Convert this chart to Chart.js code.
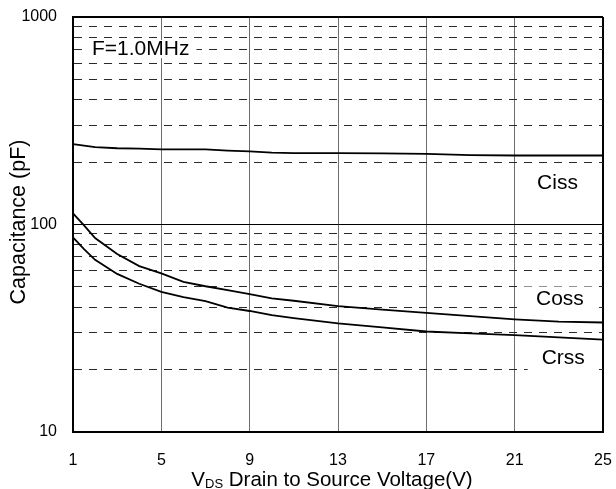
<!DOCTYPE html>
<html><head><meta charset="utf-8">
<script src="https://cdn.jsdelivr.net/npm/chart.js@4/dist/chart.umd.min.js"></script>
<style>html,body{margin:0;padding:0;background:#fff;}#wrap{width:616px;height:489px;}</style>
</head><body><div id="wrap"><canvas id="c" width="616" height="489"></canvas></div>
<script>
// ---- data ----
const voltages = [1, 1.5, 2, 3, 4, 5, 6, 7, 8, 9, 10, 11, 13, 15, 17, 19, 21, 23, 25];
const ciss = [244, 240, 236, 233, 232, 230, 230, 230, 227, 225, 222, 221, 221, 220, 219, 216, 215, 215, 215];
const coss = [113, 99, 86, 72, 63, 58.1, 52.9, 50.4, 48.3, 46.2, 44, 42.9, 40.4, 38.9, 37.5, 36.2, 34.9, 34.0, 33.7];
const crss = [86.6, 76, 67.6, 57.8, 51.8, 47.3, 44.7, 42.7, 39.8, 38.3, 36.6, 35.4, 33.4, 31.9, 30.5, 29.9, 29.3, 28.6, 27.9];
const xTickValues = [1, 5, 9, 13, 17, 21, 25];
const yLabelValues = [10, 100, 1000];
const seriesNames = ['Ciss', 'Coss', 'Crss'];
const labelAnchors = [[22.94, 159], [23.05, 43.5], [23.2, 22.7]];
const noteText = 'F=1.0MHz';
const xTitleMain = 'V', xTitleSub = 'DS', xTitleRest = ' Drain to Source Voltage(V)';
const yTitle = 'Capacitance (pF)';

const FONT = '"Liberation Sans", Arial, sans-serif';
const yGridValues = [];
for (let d = 10; d < 1000; d *= 10) for (let m = 1; m < 10; m++) yGridValues.push(d * m);
yGridValues.push(1000);

const toPts = arr => arr.map((v, i) => ({x: voltages[i], y: v}));

const textPlugin = {
  id: 'texts',
  beforeDatasetsDraw(chart) {
    const {ctx, scales: {x, y}} = chart;
    ctx.save();
    ctx.fillStyle = '#fff';
    const fx = x.getPixelForValue(1.86), fy = y.getPixelForValue(700);
    ctx.font = '21px ' + FONT;
    const fw = ctx.measureText(noteText).width;
    ctx.fillRect(fx - 9, fy - 9, fw + 16, 18);
    seriesNames.forEach((n, i) => {
      const px = x.getPixelForValue(labelAnchors[i][0]);
      const py = y.getPixelForValue(labelAnchors[i][1]);
      const w = ctx.measureText(n).width;
      ctx.fillRect(px - w / 2 - 14, py - 13, w + 28, 26);
    });
    ctx.restore();
  },
  afterDatasetsDraw(chart) {
    const {ctx, scales: {x, y}} = chart;
    ctx.save();
    ctx.fillStyle = '#000';
    ctx.textBaseline = 'middle';
    ctx.font = '21px ' + FONT;
    ctx.textAlign = 'left';
    ctx.fillText(noteText, x.getPixelForValue(1.86), y.getPixelForValue(700));
    ctx.textAlign = 'center';
    seriesNames.forEach((n, i) => {
      ctx.fillText(n, x.getPixelForValue(labelAnchors[i][0]), y.getPixelForValue(labelAnchors[i][1]));
    });
    ctx.textBaseline = 'alphabetic';
    ctx.textAlign = 'left';
    const big = '20.5px ' + FONT, small = '13px ' + FONT;
    ctx.font = big; const w1 = ctx.measureText(xTitleMain).width, w3 = ctx.measureText(xTitleRest).width;
    ctx.font = small; const w2 = ctx.measureText(xTitleSub).width;
    const total = w1 + w2 + w3;
    let sx = 332 - total / 2;
    const base = 486;
    ctx.font = big; ctx.fillText(xTitleMain, sx, base); sx += w1;
    ctx.font = small; ctx.fillText(xTitleSub, sx, base + 2); sx += w2;
    ctx.font = big; ctx.fillText(xTitleRest, sx, base);
    ctx.translate(19, 222);
    ctx.rotate(-Math.PI / 2);
    ctx.textAlign = 'center';
    ctx.textBaseline = 'middle';
    ctx.font = '21.5px ' + FONT;
    ctx.fillText(yTitle, 0, 0);
    ctx.restore();
  }
};

const lineDs = (label, data) => ({
  label, data: toPts(data), borderColor: '#000', borderWidth: 1.8,
  pointRadius: 0, tension: 0, fill: false
});

new Chart(document.getElementById('c'), {
  type: 'line',
  data: { datasets: [lineDs('Ciss', ciss), lineDs('Coss', coss), lineDs('Crss', crss)] },
  options: {
    responsive: false, animation: false, devicePixelRatio: 1,
    layout: { padding: { top: 17, right: 13, left: 0, bottom: 0 } },
    plugins: { legend: { display: false }, tooltip: { enabled: false } },
    scales: {
      x: {
        type: 'linear', min: 1, max: 25,
        afterBuildTicks: s => { s.ticks = xTickValues.map(v => ({value: v})); },
        afterFit: s => { s.height = 57; s.paddingLeft = 0; s.paddingRight = 0; },
        ticks: { color: '#000', font: { family: FONT, size: 16 }, padding: 19, maxRotation: 0, autoSkip: false },
        grid: {
          drawTicks: false,
          color: c => (c.tick && c.tick.value === 25) ? '#000' : '#6e6e6e',
          lineWidth: c => (c.tick && c.tick.value === 25) ? 2 : 1
        },
        border: { color: '#000', width: 2 }
      },
      y: {
        type: 'logarithmic', min: 10, max: 1000,
        afterBuildTicks: s => { s.ticks = yGridValues.map(v => ({value: v, major: yLabelValues.includes(v)})); },
        afterFit: s => { s.width = 73; s.paddingTop = 0; s.paddingBottom = 0; },
        ticks: {
          color: '#000', font: { family: FONT, size: 16 }, padding: 16, autoSkip: false,
          callback: v => yLabelValues.includes(v) ? String(v) : ''
        },
        grid: {
          drawTicks: false,
          color: c => (c.tick && yLabelValues.includes(c.tick.value)) ? '#000' : '#2a2a2a',
          lineWidth: c => (c.tick && c.tick.value === 1000) ? 2 : 1
        },
        border: {
          color: '#000', width: 2,
          dash: c => {
            if (!c.tick) return [];
            const v = c.tick.value;
            return (v === 10 || v === 100 || v === 1000) ? [] : [8, 7];
          }
        }
      }
    }
  },
  plugins: [textPlugin]
});
</script></body></html>
